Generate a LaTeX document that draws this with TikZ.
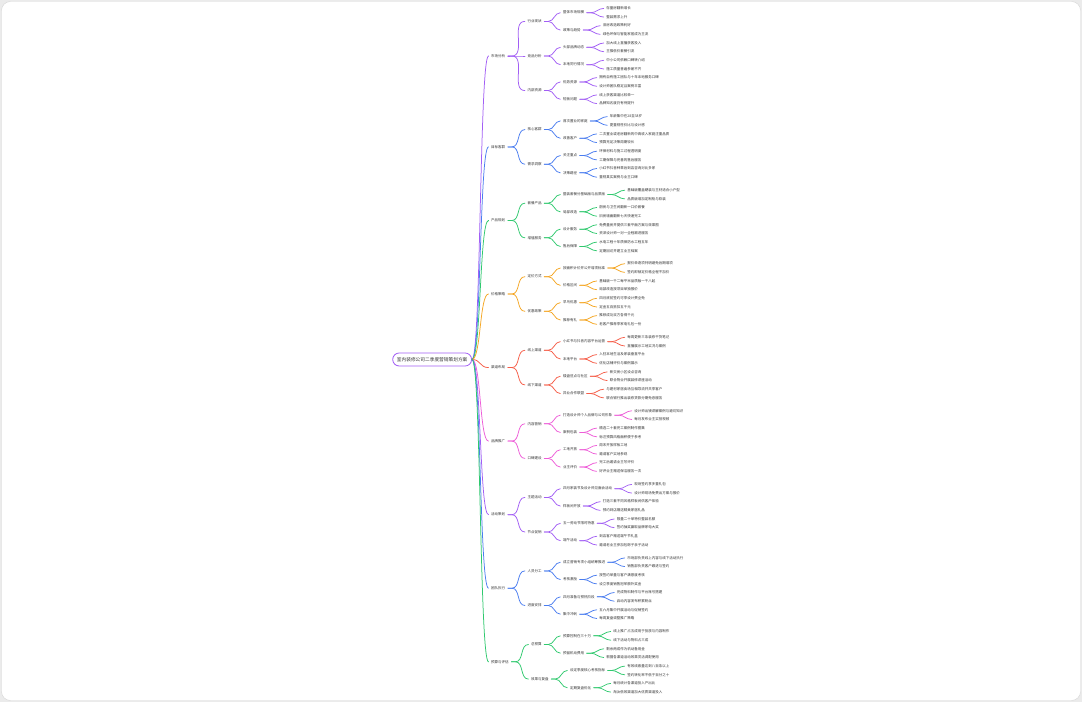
\documentclass[tikz,border=0pt]{standalone}
\usepackage{fontspec}
\usepackage{tikz}
\usetikzlibrary{positioning}
\newfontfamily\cjk{Noto Sans CJK SC}
\definecolor{mmPurple}{HTML}{A25EF5}
\definecolor{mmBlue}{HTML}{4A7DF0}
\definecolor{mmGreen}{HTML}{2FC96E}
\definecolor{mmOrange}{HTML}{F5A623}
\definecolor{mmRed}{HTML}{F65D48}
\definecolor{mmPink}{HTML}{EE5CD8}
\definecolor{mmText}{HTML}{333333}
\definecolor{mmBack}{HTML}{EBEBEB}
\definecolor{mmFrame}{HTML}{D6D6D6}
\tikzset{
  mindroot/.style={draw=mmPurple, line width=0.8pt, rounded corners=6.5pt, fill=white, inner xsep=4.2pt, minimum height=13pt, font=\cjk\fontsize{4.7}{5}\selectfont, text=mmText},
  idea/.style={inner xsep=2.5pt, inner ysep=0.5pt, text height=2.9pt, text depth=0.4pt, font=\cjk\fontsize{3.5}{4}\selectfont, text=mmText},
  link/.style={line width=0.75pt, line cap=round},
  purplelink/.style={link, draw=mmPurple},
  bluelink/.style={link, draw=mmBlue},
  greenlink/.style={link, draw=mmGreen},
  orangelink/.style={link, draw=mmOrange},
  redlink/.style={link, draw=mmRed},
  pinklink/.style={link, draw=mmPink}
}
\newcommand{\twig}[7]{%
  \node [idea, right=16pt of #1, yshift=#3] (#2) {#5};
  \node [idea, right=17pt of #2, yshift=4.33pt] (#2U) {#6};
  \node [idea, right=17pt of #2, yshift=-4.33pt] (#2D) {#7};
  \draw [#4] (#1.east) to ++(4pt,0) to[out=0,in=180] (#2.west);
  \draw [#4] (#2.east) to ++(4pt,0) to[out=0,in=180] (#2U.west);
  \draw [#4] (#2.east) to ++(4pt,0) to[out=0,in=180] (#2D.west);
}

\begin{document}
\begin{tikzpicture}[x=1pt, y=1pt]
        \fill [mmBack] (0,0) rectangle (1082,702);
        \draw [draw=mmFrame, fill=white, rounded corners=9pt] (1.5,1.5) rectangle (1080.5,700.5);
        \useasboundingbox (0,0) rectangle (1082,702);

        \node [mindroot, anchor=east] (R) at (472,342.5) {室内装修公司二季度营销策划方案};

        \node [idea, right=16.5pt of R, yshift=303.5pt] (M) {市场分析};
        \draw [purplelink] (R.east) to[out=0,in=180,distance=9pt] (M.west);
        \node [idea, right=17pt of M, yshift=34.6pt] (M1) {行业现状};
        \node [idea, right=17pt of M] (M2) {竞品分析};
        \node [idea, right=17pt of M, yshift=-34.6pt] (M3) {内部资源};
        \draw [purplelink] (M.east) to ++(4pt,0) to[out=0,in=180] (M1.west);
        \draw [purplelink] (M.east) to ++(4pt,0) to[out=0,in=180] (M2.west);
        \draw [purplelink] (M.east) to ++(4pt,0) to[out=0,in=180] (M3.west);
        \twig{M1}{M1a}{8.65pt}{purplelink}{整体市场规模}{存量房翻新增长}{整装需求上升}
        \twig{M1}{M1b}{-8.65pt}{purplelink}{政策与趋势}{旧房改造政策利好}{绿色环保与智能家居成为主流}
        \twig{M2}{M2a}{8.65pt}{purplelink}{头部品牌动态}{加大线上直播获客投入}{主推低价套餐引流}
        \twig{M2}{M2b}{-8.65pt}{purplelink}{本地同行情况}{中小公司依赖口碑转介绍}{施工质量普遍参差不齐}
        \twig{M3}{M3a}{8.65pt}{purplelink}{优势资源}{拥有自有施工团队与十年本地服务口碑}{设计师团队稳定且案例丰富}
        \twig{M3}{M3b}{-8.65pt}{purplelink}{短板问题}{线上获客渠道比较单一}{品牌知名度仍有待提升}

        \node [idea, right=16.5pt of R, yshift=212.6pt] (K) {目标客群};
        \draw [bluelink] (R.east) to[out=0,in=180,distance=9pt] (K.west);
        \node [idea, right=17pt of K, yshift=17.3pt] (K1) {核心客群};
        \node [idea, right=17pt of K, yshift=-17.3pt] (K2) {需求洞察};
        \draw [bluelink] (K.east) to ++(4pt,0) to[out=0,in=180] (K1.west);
        \draw [bluelink] (K.east) to ++(4pt,0) to[out=0,in=180] (K2.west);
        \twig{K1}{K1a}{8.65pt}{bluelink}{首次置业的家庭}{年龄集中在28至38岁}{更重视性价比与设计感}
        \twig{K1}{K1b}{-8.65pt}{bluelink}{改善客户}{二次置业或老房翻新的中高收入家庭注重品质}{预算充足决策周期较长}
        \twig{K2}{K2a}{8.65pt}{bluelink}{关注重点}{环保材料与施工过程透明度}{工期保障与完善的售后服务}
        \twig{K2}{K2b}{-8.65pt}{bluelink}{决策路径}{小红书抖音种草后到店咨询对比多家}{重视真实案例与业主口碑}

        \node [idea, right=16.5pt of R, yshift=139pt] (P) {产品规划};
        \draw [greenlink] (R.east) to[out=0,in=180,distance=9pt] (P.west);
        \node [idea, right=17pt of P, yshift=17.3pt] (P1) {套餐产品};
        \node [idea, right=17pt of P, yshift=-17.3pt] (P2) {增值服务};
        \draw [greenlink] (P.east) to ++(4pt,0) to[out=0,in=180] (P1.west);
        \draw [greenlink] (P.east) to ++(4pt,0) to[out=0,in=180] (P2.west);
        \twig{P1}{P1a}{8.65pt}{greenlink}{整装套餐分基础版与品质版}{基础版覆盖硬装与主材适合小户型}{品质版增加定制柜与软装}
        \twig{P1}{P1b}{-8.65pt}{greenlink}{局部改造}{厨房与卫生间翻新一口价套餐}{旧房墙面翻新七天快速完工}
        \twig{P2}{P2a}{8.65pt}{greenlink}{设计服务}{免费量房并提供三套平面方案与效果图}{资深设计师一对一全程跟进服务}
        \twig{P2}{P2b}{-8.65pt}{greenlink}{售后保障}{水电工程十年质保防水工程五年}{定期回访并建立业主档案}

        \node [idea, right=16.5pt of R, yshift=65.5pt] (J) {价格策略};
        \draw [orangelink] (R.east) to[out=0,in=180,distance=9pt] (J.west);
        \node [idea, right=17pt of J, yshift=17.3pt] (J1) {定价方式};
        \node [idea, right=17pt of J, yshift=-17.3pt] (J2) {优惠政策};
        \draw [orangelink] (J.east) to ++(4pt,0) to[out=0,in=180] (J1.west);
        \draw [orangelink] (J.east) to ++(4pt,0) to[out=0,in=180] (J2.west);
        \twig{J1}{J1a}{8.65pt}{orangelink}{按面积计价并公开增项标准}{报价单逐项列明避免后期增项}{签约即锁定价格全程不加价}
        \twig{J1}{J1b}{-8.65pt}{orangelink}{价格区间}{基础版一千二每平米品质版一千八起}{局部改造按项目单独报价}
        \twig{J2}{J2a}{8.65pt}{orangelink}{早鸟优惠}{四月底前签约可享设计费全免}{定金五百抵扣五千元}
        \twig{J2}{J2b}{-8.65pt}{orangelink}{推荐有礼}{推荐成功双方各得千元}{老客户推荐享家电礼包一份}

        \node [idea, right=16.5pt of R, yshift=-8.1pt] (Q) {渠道布局};
        \draw [redlink] (R.east) to[out=0,in=180,distance=9pt] (Q.west);
        \node [idea, right=17pt of Q, yshift=17.3pt] (Q1) {线上渠道};
        \node [idea, right=17pt of Q, yshift=-17.3pt] (Q2) {线下渠道};
        \draw [redlink] (Q.east) to ++(4pt,0) to[out=0,in=180] (Q1.west);
        \draw [redlink] (Q.east) to ++(4pt,0) to[out=0,in=180] (Q2.west);
        \twig{Q1}{Q1a}{8.65pt}{redlink}{小红书与抖音内容平台运营}{每周更新三条装修干货笔记}{直播展示工地实况与案例}
        \twig{Q1}{Q1b}{-8.65pt}{redlink}{本地平台}{入驻本地生活及家装垂直平台}{优化店铺评价与案例展示}
        \twig{Q2}{Q2a}{8.65pt}{redlink}{楼盘驻点与社区}{新交房小区设点咨询}{联合物业开展装修讲座活动}
        \twig{Q2}{Q2b}{-8.65pt}{redlink}{异业合作联盟}{与建材家居卖场互相导流并共享客户}{联合银行推出装修贷款分期免息服务}

        \node [idea, right=16.5pt of R, yshift=-81.6pt] (B) {品牌推广};
        \draw [pinklink] (R.east) to[out=0,in=180,distance=9pt] (B.west);
        \node [idea, right=17pt of B, yshift=17.3pt] (B1) {内容营销};
        \node [idea, right=17pt of B, yshift=-17.3pt] (B2) {口碑建设};
        \draw [pinklink] (B.east) to ++(4pt,0) to[out=0,in=180] (B1.west);
        \draw [pinklink] (B.east) to ++(4pt,0) to[out=0,in=180] (B2.west);
        \twig{B1}{B1a}{8.65pt}{pinklink}{打造设计师个人品牌与公司形象}{设计师出镜讲解案例与避坑知识}{每月发布业主实拍视频}
        \twig{B1}{B1b}{-8.65pt}{pinklink}{案例包装}{精选二十套完工案例制作图集}{标注预算风格面积便于参考}
        \twig{B2}{B2a}{8.65pt}{pinklink}{工地开放}{周末开放样板工地}{邀请客户实地参观}
        \twig{B2}{B2b}{-8.65pt}{pinklink}{业主评价}{完工后邀请业主写评价}{好评业主赠送保洁服务一次}

        \node [idea, right=16.5pt of R, yshift=-155.2pt] (H) {活动策划};
        \draw [purplelink] (R.east) to[out=0,in=180,distance=9pt] (H.west);
        \node [idea, right=17pt of H, yshift=17.3pt] (H1) {主题活动};
        \node [idea, right=17pt of H, yshift=-17.3pt] (H2) {节点促销};
        \draw [purplelink] (H.east) to ++(4pt,0) to[out=0,in=180] (H1.west);
        \draw [purplelink] (H.east) to ++(4pt,0) to[out=0,in=180] (H2.west);
        \twig{H1}{H1a}{8.65pt}{purplelink}{四月家装节及设计师见面会活动}{现场签约享多重礼包}{设计师现场免费出方案与报价}
        \twig{H1}{H1b}{-8.65pt}{purplelink}{样板间开放}{打造三套不同风格样板间供客户体验}{预约到店赠送精美家居礼品}
        \twig{H2}{H2a}{8.65pt}{purplelink}{五一劳动节限时特惠}{限量二十单特价整装名额}{签约抽奖赢取品牌家电大奖}
        \twig{H2}{H2b}{-8.65pt}{purplelink}{端午活动}{到店客户赠送端午节礼盒}{邀请老业主参加包粽子亲子活动}

        \node [idea, right=16.5pt of R, yshift=-228.7pt] (T) {团队执行};
        \draw [bluelink] (R.east) to[out=0,in=180,distance=9pt] (T.west);
        \node [idea, right=17pt of T, yshift=17.3pt] (T1) {人员分工};
        \node [idea, right=17pt of T, yshift=-17.3pt] (T2) {进度安排};
        \draw [bluelink] (T.east) to ++(4pt,0) to[out=0,in=180] (T1.west);
        \draw [bluelink] (T.east) to ++(4pt,0) to[out=0,in=180] (T2.west);
        \twig{T1}{T1a}{8.65pt}{bluelink}{成立营销专项小组统筹推进}{市场部负责线上内容与线下活动执行}{销售部负责客户跟进与签约}
        \twig{T1}{T1b}{-8.65pt}{bluelink}{考核激励}{按签约单量与客户满意度考核}{设立季度销售冠军额外奖金}
        \twig{T2}{T2a}{8.65pt}{bluelink}{四月准备与预热阶段}{完成物料制作与平台账号搭建}{启动内容发布积累粉丝}
        \twig{T2}{T2b}{-8.65pt}{bluelink}{集中冲刺}{五六月集中开展活动与促销签约}{每周复盘调整推广策略}

        \node [idea, right=16.5pt of R, yshift=-302.3pt] (Y) {预算与评估};
        \draw [greenlink] (R.east) to[out=0,in=180,distance=9pt] (Y.west);
        \node [idea, right=17pt of Y, yshift=17.3pt] (Y1) {总预算};
        \node [idea, right=17pt of Y, yshift=-17.3pt] (Y2) {效果与复盘};
        \draw [greenlink] (Y.east) to ++(4pt,0) to[out=0,in=180] (Y1.west);
        \draw [greenlink] (Y.east) to ++(4pt,0) to[out=0,in=180] (Y2.west);
        \twig{Y1}{Y1a}{8.65pt}{greenlink}{预算控制在三十万}{线上推广占五成用于投放与内容制作}{线下活动与物料占三成}
        \twig{Y1}{Y1b}{-8.65pt}{greenlink}{预留机动费用}{剩余两成作为机动备用金}{根据各渠道活动效果灵活调配使用}
        \twig{Y2}{Y2a}{8.65pt}{greenlink}{设定季度核心考核指标}{有效线索量达到八百条以上}{签约转化率不低于百分之十}
        \twig{Y2}{Y2b}{-8.65pt}{greenlink}{定期复盘优化}{每月统计各渠道投入产出比}{淘汰低效渠道加大优质渠道投入}
      \end{tikzpicture}
\end{document}
